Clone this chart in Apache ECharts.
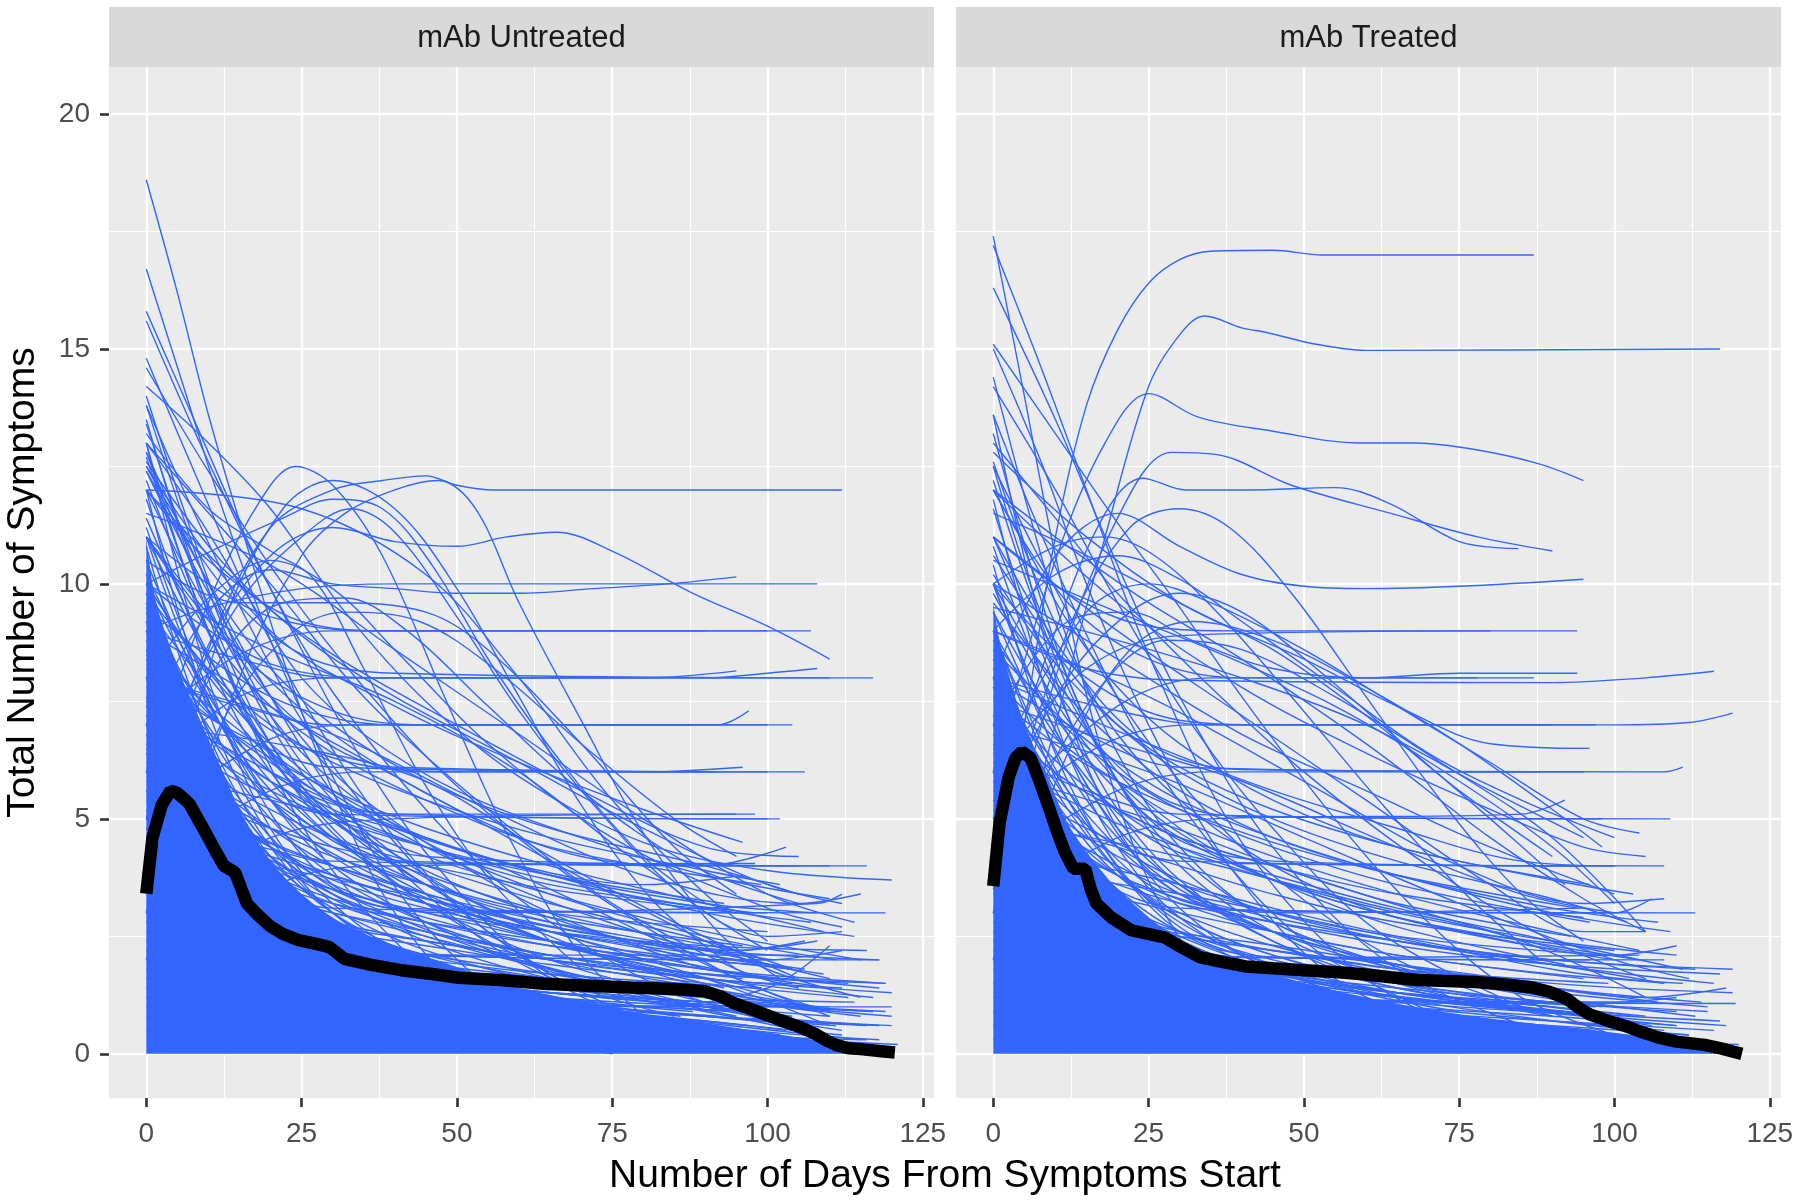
<!DOCTYPE html>
<html>
<head>
<meta charset="utf-8">
<script src="https://cdn.jsdelivr.net/npm/echarts@6/dist/echarts.min.js"></script>
<style>
  html, body { margin: 0; padding: 0; background: #fff; }
  #chart { width: 1800px; height: 1202px; }
</style>
</head>
<body>
<div id="chart"></div>
<script>
// tick values
var xTicks = [0, 25, 50, 75, 100, 125];
var xMinorTicks = [12.5, 37.5, 62.5, 87.5, 112.5];
var yTicks = [0, 5, 10, 15, 20];
var yMinorTicks = [2.5, 7.5, 12.5, 17.5];
var panelTitles = ['mAb Untreated', 'mAb Treated'];

// solid mass of overlapping trajectories (upper edge)
var untreatedBand = [[0,11.0],[1,10.0],[2,9.4],[4,8.6],[6,7.9],[8,7.3],[10,6.7],[13,5.8],[15,5.2],[18,4.5],[20,4.1],[25,3.4],[30,2.9],[35,2.55],[40,2.3],[50,1.85],[60,1.4],[70,1.1],[80,0.85],[90,0.65],[100,0.45],[110,0.25],[120,0.07]];
var treatedBand = [[0,9.6],[1,8.8],[2,8.3],[4,7.4],[6,6.7],[9,5.8],[12,4.9],[15,4.3],[18,3.8],[20,3.5],[26,2.8],[30,2.45],[35,2.15],[40,1.9],[50,1.5],[60,1.2],[70,0.95],[80,0.75],[90,0.6],[100,0.45],[110,0.28],[120,0.08]];

// mean curves
var untreatedMean = [[0,3.41],[1,4.6],[2.5,5.3],[3.9,5.6],[5,5.55],[6.9,5.33],[8.3,5.0],[9.7,4.67],[11,4.35],[12.5,4.0],[14.3,3.86],[16.2,3.2],[18,2.95],[19.9,2.72],[22,2.55],[24.5,2.42],[27,2.35],[29.5,2.27],[31.9,2.02],[36,1.9],[41,1.78],[46,1.7],[50.3,1.62],[57,1.57],[64,1.49],[71,1.45],[78,1.41],[85,1.38],[90,1.33],[92.5,1.22],[94.6,1.08],[98,0.92],[102,0.72],[105,0.58],[107.6,0.43],[109.5,0.28],[111,0.19],[113,0.12],[115,0.1],[118,0.06],[120.5,0.03]];
var treatedMean = [[0,3.57],[1,4.9],[2.5,5.9],[3.6,6.3],[4.6,6.43],[6,6.3],[7.4,5.82],[8.8,5.3],[10.2,4.76],[11.5,4.3],[12.9,3.94],[14.8,3.94],[15.7,3.5],[16.6,3.2],[19,2.9],[22.2,2.63],[25,2.55],[27.7,2.47],[30.5,2.25],[33.2,2.06],[37,1.95],[40.6,1.86],[45,1.82],[49.9,1.78],[55,1.74],[59.1,1.7],[64,1.63],[68.3,1.57],[73,1.55],[77.6,1.53],[82,1.48],[86.8,1.41],[89.5,1.32],[92.3,1.17],[94,1.0],[96,0.84],[99,0.7],[101.6,0.6],[104,0.48],[107,0.35],[110,0.26],[114.5,0.19],[117.3,0.11],[119,0.05],[120.5,0.0]];

// individual patient trajectories, mAb untreated
var untreatedLines = [
  [[0,18.6],[5,16.2],[10,13.6],[16,10.9],[22,8.4],[30,5.6],[40,3],[52,1.2],[65,0.3],[75,0]],
  [[0,16.7],[6,14.2],[12,11.7],[20,8.8],[30,5.9],[42,3.2],[58,1.1],[72,0.2]],
  [[0,15.8],[8,13.4],[16,11],[25,8.6],[35,6.2],[48,3.8],[65,1.6],[85,0.4]],
  [[0,15.6],[10,12.6],[20,9.9],[30,7.7],[45,5.2],[60,3.3],[80,1.6],[100,0.7]],
  [[0,14.8],[8,12.3],[18,9.3],[28,6.9],[40,4.6],[55,2.6],[75,1],[95,0.2]],
  [[0,14.6],[10,12.4],[22,10],[35,7.8],[50,5.7],[70,3.6],[95,1.6],[110,0.9]],
  [[0,14.2],[10,13],[20,11.6],[32,9.4],[45,7.5],[60,5.9],[80,4.5],[100,3.9],[120,3.7]],
  [[0,13.8],[6,12],[14,9.8],[25,7.1],[38,4.8],[52,2.9],[70,1.3]],
  [[0,13.5],[5,11.3],[12,8.6],[20,6.1],[30,3.9],[45,1.8],[60,0.6]],
  [[0,13.2],[10,11.6],[20,10.7],[27,10.1],[35,8.2],[45,5.7],[56,3.6],[70,1.8]],
  [[0,13],[8,11.5],[16,9.8],[25,8],[35,6.8],[50,5.6],[70,4.6],[90,3.8],[110,3.3]],
  [[0,12.8],[10,10],[20,7.6],[32,5.2],[45,3.4],[62,1.8],[85,0.8]],
  [[0,12.6],[12,10.5],[25,8.9],[40,7.6],[60,6.2],[80,4.8],[100,3.6],[112,3.2]],
  [[0,12.4],[8,10.3],[18,8],[30,6],[45,4.5],[65,3],[90,1.8]],
  [[0,4],[10,8.6],[20,11.2],[30,12],[38,12.2],[45,12.3],[50,12.1],[56,12],[112,12]],
  [[0,6],[10,9.6],[18,11.7],[24,12.5],[30,12.1],[38,10.6],[48,7.6],[58,4.7],[70,2.1],[82,0.6]],
  [[0,3],[12,9],[22,11.6],[30,12.2],[40,11.6],[50,9.9],[60,7.6],[70,5.3],[82,3.2],[95,1.8]],
  [[0,5],[10,8.7],[20,10.6],[30,11.2],[40,10.9],[50,10.8],[58,11],[66,11.1],[75,10.7],[88,9.8],[100,9.1],[110,8.4]],
  [[0,2],[15,8],[25,10.6],[32,11.5],[40,12],[47,12.2],[53,11.6],[60,9.6],[70,7.1],[80,4.7],[92,2.6],[102,1.6]],
  [[0,7],[10,9.4],[20,10.3],[30,10],[40,9.9],[50,9.8],[60,9.8],[72,9.9],[84,10],[95,10.15]],
  [[0,9],[10,9.5],[25,9.9],[40,10],[108,10]],
  [[0,6],[15,9.6],[25,11],[33,11.6],[40,11.1],[50,9.3],[60,7.3],[72,5.3],[86,3.4],[100,2.2]],
  [[0,8],[10,9.7],[20,10.5],[30,9.9],[40,8.6],[55,6.6],[75,4.6],[100,3.1],[112,2.7]],
  [[0,10],[12,10.8],[22,11.4],[30,11.8],[38,11.6],[46,10.4],[56,8.2],[68,6],[80,4.2],[90,3.2]],
  [[0,5],[12,8.4],[22,9.6],[32,9.7],[42,9],[55,7.4],[70,5.6],[88,4],[105,3.2]],
  [[0,3],[12,7],[22,8.8],[32,9.4],[44,9.2],[56,8.2],[70,6.6],[85,5],[95,4.2]],
  [[0,11],[10,10],[20,9.3],[35,9],[107,9]],
  [[0,7],[15,8.5],[30,9],[100,9]],
  [[0,12],[10,10.5],[25,9.2],[40,9],[90,9]],
  [[0,12.5],[12,10],[25,8.5],[40,8.1],[117,8]],
  [[0,9],[15,8.4],[30,8],[90,8],[100,8.1],[108,8.2]],
  [[0,6],[15,7.6],[30,8],[110,8]],
  [[0,10],[20,8.3],[40,8],[80,8],[95,8.15]],
  [[0,11],[15,8.5],[30,7.3],[45,7],[104,7]],
  [[0,8],[15,7.4],[30,7],[100,7]],
  [[0,5],[20,6.7],[35,7],[92,7],[97,7.3]],
  [[0,9.5],[20,7.6],[40,7],[88,7]],
  [[0,12],[12,9],[25,7],[40,6.1],[106,6]],
  [[0,8],[15,6.8],[30,6.1],[100,6]],
  [[0,4],[20,5.6],[35,6],[92,6]],
  [[0,10],[15,7.4],[30,6.3],[50,6],[80,6],[96,6.1]],
  [[0,11],[12,8],[25,5.8],[40,5.1],[102,5]],
  [[0,7],[15,5.8],[30,5.1],[100,5]],
  [[0,3],[20,4.6],[40,5],[95,5.1]],
  [[0,9],[20,6],[40,5.1],[98,5.1]],
  [[0,10],[12,7],[25,5],[40,4.1],[116,4]],
  [[0,6],[15,4.8],[30,4.1],[105,4]],
  [[0,13],[10,9],[25,5.5],[45,4.2],[110,4]],
  [[0,2],[25,3.8],[40,4],[98,4.05]],
  [[0,9],[12,6],[25,4],[40,3.1],[119,3]],
  [[0,5],[15,3.8],[30,3.1],[100,3]],
  [[0,11],[12,7],[30,3.6],[50,3],[108,3.2],[112,3.4]],
  [[0,8],[12,5],[25,3],[40,2.1],[118,2]],
  [[0,4],[15,2.8],[30,2.1],[105,2.1]],
  [[0,6],[15,3.6],[35,2.2],[100,2],[112,2.2]],
  [[0,7],[12,4],[25,2],[40,1.1],[120,1]],
  [[0,3],[15,1.8],[30,1.1],[110,1]],
  [[0,12],[15,10],[30,8.5],[50,7],[70,5.6],[90,4.4],[105,4.2]],
  [[0,10],[20,8.6],[40,7.5],[60,6],[80,4],[100,2.5],[112,2.6]],
  [[0,7],[25,6.5],[45,5.8],[65,4.2],[85,2.8],[105,1.6]],
  [[0,12.5],[20,9],[40,7.4],[60,6.2],[80,5.2],[96,4.5]],
  [[0,9],[25,7],[50,5.2],[75,3.4],[100,1.8],[115,1.2]],
  [[0,11.5],[20,10.4],[40,8.6],[60,6.8],[80,5],[100,3.4],[114,2.8]],
  [[0,6],[20,5.4],[45,4.6],[70,3.2],[95,1.6],[110,0.8]],
  [[0,12],[25,11.6],[45,10.2],[60,8],[75,5.4],[90,3.4],[100,2.4]],
  [[0,5],[30,4],[60,2.8],[90,1.6],[110,0.6]],
  [[0,8],[30,6.8],[55,5.2],[80,3.8],[105,3.2],[115,3.4]],
  [[0,4],[30,3],[60,2],[90,1],[112,0.5]],
  [[0,3],[40,2.2],[80,1.4],[108,0.9]],
  [[0,2],[40,1.4],[80,0.8],[115,0.3]],
  [[0,10.5],[15,9.6],[30,9.6],[45,9.4],[55,8.6],[70,6.6],[85,4.4],[95,3.4]],
  [[0,13],[20,10],[35,7.6],[55,5.2],[75,3.2],[95,1.8],[105,1.4]],
  [[0,3],[40,1.5],[80,1],[100,1.4],[110,2.3]],
  [[0,8.5],[20,6.4],[45,4.4],[70,3],[95,2.2],[108,2.4]],
  [[0,6.5],[20,5],[40,3.6],[65,2.4],[90,1.6],[104,1.5]],
  [[0,9.5],[15,7],[30,5],[50,3.4],[75,2],[100,1.1],[115,0.8]],
  [[0,4.5],[20,4],[45,3.3],[70,2.6],[95,2.2],[106,2.4]],
  [[0,11],[15,8.6],[30,6.8],[50,5.2],[70,4.2],[90,4],[103,4.4]],
  [[0,7.5],[20,6],[40,4.8],[60,4],[80,3.6],[96,3.8]],
  [[0,5.5],[25,3.8],[50,2.4],[75,1.4],[100,0.8],[118,0.6]]
];

// more trajectories read at fixed days; first entry of a row = day of its last value
var rowDays = [0, 6, 12, 20, 30, 45, 65, 90];
var untreatedRows = [
  [118, 9.8,7.6,5.8,4.2,3.0,2.0,1.2,0.6,0.3],
  [112, 9.2,7.0,5.4,3.8,2.7,1.8,1.1,0.7,0.4],
  [105, 8.6,6.8,5.4,4.1,3.1,2.2,1.5,0.9,0.5],
  [120, 8.0,6.6,5.4,4.2,3.3,2.5,1.8,1.2,0.8],
  [86, 7.6,6.0,4.8,3.6,2.6,1.8,1.2,0.8],
  [117, 7.2,6.2,5.2,4.2,3.4,2.7,2.1,1.6,1.2],
  [109, 6.8,5.6,4.6,3.6,2.8,2.1,1.6,1.2,1.0],
  [101, 6.4,5.0,3.9,2.9,2.1,1.4,0.9,0.5,0.3],
  [119, 6.0,5.2,4.5,3.8,3.2,2.6,2.1,1.7,1.5],
  [94, 5.6,4.6,3.8,3.0,2.3,1.7,1.2,0.9],
  [114, 5.2,4.4,3.7,3.0,2.4,1.9,1.5,1.2,1.1],
  [107, 4.8,4.0,3.3,2.6,2.0,1.5,1.1,0.8,0.6],
  [96, 4.4,3.8,3.2,2.6,2.1,1.7,1.3,1.0],
  [111, 4.0,3.4,2.9,2.4,1.9,1.5,1.1,0.8,0.6],
  [88, 3.6,3.2,2.8,2.4,2.0,1.6,1.2,0.9],
  [116, 3.2,2.8,2.5,2.1,1.8,1.4,1.1,0.8,0.6],
  [92, 2.8,2.6,2.3,2.0,1.7,1.4,1.1,0.8],
  [103, 2.4,2.2,2.0,1.8,1.5,1.2,0.9,0.7,0.5],
  [84, 2.0,1.9,1.7,1.5,1.3,1.0,0.8,0.5],
  [121, 1.6,1.5,1.4,1.2,1.0,0.8,0.6,0.4,0.2],
  [80, 1.2,1.1,1.0,0.9,0.7,0.6,0.4,0.3],
  [113, 0.8,0.8,0.7,0.6,0.5,0.4,0.3,0.2,0.1],
  [110, 10.5,8.6,7.0,5.4,4.2,3.2,2.4,1.8,1.4],
  [97, 11.2,9.0,7.2,5.4,4.0,2.8,1.8,1.1],
  [106, 11.8,9.6,7.8,6.0,4.6,3.4,2.4,1.6,1.0],
  [99, 12.2,10.2,8.4,6.6,5.0,3.6,2.4,1.4],
  [93, 12.7,10.4,8.4,6.4,4.7,3.2,2.0,1.0],
  [95, 13.4,11.0,8.8,6.6,4.8,3.2,1.8,0.8],
  [100, 14.0,11.6,9.4,7.2,5.4,3.8,2.6,1.6],
  [108, 10.0,8.8,7.7,6.6,5.6,4.6,3.8,3.2,3.0],
  [98, 9.0,8.0,7.0,6.0,5.2,4.4,3.6,3.0],
  [115, 8.4,7.4,6.6,5.8,5.0,4.2,3.4,2.6,2.0],
  [95, 7.8,7.0,6.2,5.4,4.6,3.8,3.0,2.2],
  [104, 7.0,6.4,5.8,5.2,4.6,4.0,3.2,2.4,1.8],
  [100, 6.6,6.0,5.4,4.8,4.2,3.6,3.0,2.6],
  [110, 5.8,5.4,5.0,4.5,4.0,3.4,2.8,2.2,1.6],
  [91, 5.0,4.8,4.5,4.2,3.8,3.2,2.6,2.0],
  [118, 4.6,4.4,4.2,3.9,3.5,3.0,2.4,1.8,1.4],
  [96, 3.8,3.7,3.5,3.3,3.0,2.6,2.1,1.6],
  [113, 3.0,3.0,2.9,2.8,2.6,2.3,1.9,1.5,1.2],
  [107, 2.2,2.3,2.3,2.2,2.1,1.9,1.6,1.3,1.0],
  [119, 1.4,1.6,1.7,1.7,1.6,1.5,1.3,1.1,0.9],
  [102, 1.0,1.2,1.3,1.3,1.2,1.0,0.8,0.6,0.4],
  [116, 0.5,0.7,0.8,0.8,0.8,0.7,0.6,0.4,0.3],
  [108, 9.6,8.0,6.4,5.0,3.8,2.8,2.0,1.4,1.0],
  [89, 8.8,7.2,5.8,4.4,3.4,2.4,1.6,1.0],
  [97, 10.8,8.2,6.2,4.4,3.0,1.9,1.1,0.6],
  [94, 12.0,9.0,6.6,4.6,3.0,1.8,1.0,0.5],
  [75, 13.0,9.8,7.2,4.8,3.2,1.9,1.0],
  [112, 9.4,7.4,5.8,4.4,3.4,2.6,2.0,1.6,1.4],
  [106, 6.2,5.6,5.0,4.4,3.8,3.2,2.6,2.1,1.8],
  [98, 5.4,4.8,4.3,3.8,3.3,2.8,2.3,1.9],
  [117, 4.2,3.6,3.1,2.6,2.2,1.8,1.4,1.1,0.9],
  [104, 3.4,3.0,2.6,2.2,1.9,1.6,1.3,1.0,0.8],
  [110, 2.6,2.4,2.2,1.9,1.7,1.5,1.2,1.0,0.8],
  [120, 1.8,1.7,1.6,1.5,1.4,1.2,1.0,0.8,0.6],
  [93, 7.4,6.8,6.2,5.6,5.0,4.4,3.8,3.2],
  [109, 8.2,7.6,7.0,6.3,5.6,4.8,4.0,3.2,2.6],
  [99, 11.0,9.8,8.6,7.4,6.4,5.4,4.4,3.6],
  [105, 12.4,11.0,9.6,8.2,7.0,5.8,4.8,4.0,3.4],
  [114, 8.6,7.8,7.0,6.2,5.4,4.6,3.8,3.0,2.5],
  [101, 7.4,6.4,5.6,4.8,4.0,3.3,2.7,2.2,2.0],
  [118, 6.6,5.8,5.1,4.4,3.7,3.1,2.6,2.2,2.0],
  [96, 9.2,7.8,6.6,5.4,4.4,3.6,2.9,2.3],
  [109, 10.2,8.6,7.2,5.8,4.6,3.6,2.8,2.1,1.7],
  [88, 11.4,9.6,8.0,6.4,5.1,3.9,2.9,2.0],
  [116, 5.6,5.0,4.5,4.0,3.5,3.0,2.6,2.3,2.2],
  [104, 4.8,4.4,4.0,3.6,3.2,2.8,2.4,2.0,1.8],
  [120, 3.6,3.4,3.2,3.0,2.7,2.4,2.0,1.6,1.3],
  [99, 2.8,2.8,2.7,2.5,2.3,2.0,1.7,1.4],
  [111, 12.8,10.8,9.0,7.2,5.8,4.5,3.4,2.5,2.0],
  [93, 13.8,11.4,9.2,7.0,5.2,3.6,2.4,1.4],
  [107, 8.0,7.2,6.5,5.8,5.1,4.4,3.7,3.1,2.8],
  [119, 7.0,6.0,5.2,4.4,3.6,2.9,2.3,1.8,1.5],
  [102, 9.8,8.8,7.9,7.0,6.2,5.4,4.6,3.9,3.6],
  [95, 6.0,5.6,5.2,4.8,4.4,4.0,3.5,3.0],
  [113, 4.4,4.0,3.6,3.2,2.8,2.4,2.0,1.7,1.5],
  [108, 3.0,2.7,2.4,2.1,1.9,1.6,1.3,1.1,1.0],
  [117, 2.2,2.1,2.0,1.9,1.7,1.5,1.3,1.1,0.9],
  [98, 1.6,1.7,1.7,1.6,1.5,1.3,1.1,0.9]
];

// individual patient trajectories, mAb treated
var treatedLines = [
  [[0,17.4],[5,14],[10,10.6],[18,6.2],[28,2.9],[40,1],[55,0.2]],
  [[0,17.2],[8,14.5],[15,12],[25,8.5],[40,4.5],[60,1.6],[80,0.3]],
  [[0,16.3],[10,13.5],[20,10.4],[30,7.6],[45,4.4],[65,1.8],[90,0.4]],
  [[0,15.1],[10,13.2],[20,11.3],[30,9.5],[40,7.6],[55,5],[70,2.8],[85,1.2],[100,0.4]],
  [[0,15],[8,12.5],[15,10],[25,7],[38,4],[55,1.6],[75,0.4]],
  [[0,14.2],[10,12],[20,9.6],[32,7],[45,4.8],[62,2.6],[85,1]],
  [[0,13.6],[6,11.6],[14,9.2],[24,6.6],[36,4.3],[52,2.2],[72,0.8]],
  [[0,13],[10,11.4],[20,9.8],[35,7.8],[50,6],[70,4],[90,2.4],[105,1.6]],
  [[0,12.5],[8,10.4],[18,8],[30,5.8],[45,3.8],[65,2],[90,0.8]],
  [[0,12],[12,10.8],[25,9.6],[40,8.4],[60,6.6],[80,4.6],[95,3.3],[105,2.6]],
  [[0,3],[5,7],[10,11],[15,13.8],[20,15.4],[25,16.4],[30,16.9],[35,17.08],[45,17.1],[53,17],[87,17]],
  [[0,2],[10,7],[18,11],[25,14.2],[30,15.3],[34,15.7],[40,15.45],[44,15.35],[52,15.1],[60,14.97],[117,15]],
  [[0,6],[10,10.5],[18,13],[25,14.05],[33,13.55],[45,13.25],[59,13],[68,13],[78,12.85],[88,12.55],[95,12.2]],
  [[0,3],[10,8],[20,11.4],[28.7,12.8],[36,12.75],[48,12.1],[64,11.5],[78,11],[90,10.7]],
  [[0,5],[10,9],[18,11.5],[24,12.25],[31,12],[41,12],[55,12.05],[64,11.7],[75,10.9],[84.5,10.75]],
  [[0,8],[10,10.6],[20,11.5],[30,10.8],[40,10.2],[50,9.95],[60,9.9],[75,9.95],[95,10.1]],
  [[0,4],[12,9],[22,11.2],[30,11.6],[38,11.2],[48,9.8],[60,7.6],[72,5.4],[85,3.4],[95,2.4]],
  [[0,6],[15,9.4],[25,10],[35,9.6],[50,8.6],[65,7.4],[80,6.2],[95,5],[104,4.7]],
  [[0,9],[10,10.2],[20,10.6],[30,10.1],[40,9.2],[55,7.8],[70,6.4],[85,5.4],[100,4.6]],
  [[0,5],[12,8],[22,9.4],[30,9.8],[40,9.4],[52,8.2],[66,6.6],[80,5],[92,3.6]],
  [[0,10],[10,10.8],[18,11],[26,10.6],[36,9.4],[48,7.6],[62,5.4],[76,3.4],[88,2]],
  [[0,2],[12,6.4],[22,8.6],[32,9.2],[45,8.8],[60,7.8],[75,6.6],[90,5.2],[98,4.4]],
  [[0,7],[12,9.2],[22,9.4],[32,8.8],[45,8.2],[60,8],[75,8.1],[94,8.1]],
  [[0,11.5],[12,10.8],[24,10],[36,9.2],[50,8.4],[65,7.4],[80,6.6],[96,6.5]],
  [[0,3.5],[15,7.4],[28,8.8],[40,8.6],[55,7.6],[72,6.2],[90,4.6],[105,2.6]],
  [[0,11],[12,9.8],[25,9.1],[40,9],[94,9]],
  [[0,6],[15,8.2],[30,8.9],[80,9]],
  [[0,12],[12,9.6],[25,8.4],[40,8],[87,8]],
  [[0,9],[15,8.2],[30,7.95],[90,7.9],[105,8],[116,8.14]],
  [[0,5],[20,7.4],[35,8],[78,8]],
  [[0,10],[15,8],[30,7.1],[45,7],[97,7]],
  [[0,8],[20,7.3],[35,7],[100,7],[112,7.05],[119,7.25]],
  [[0,5],[18,6.6],[32,7],[90,7]],
  [[0,11],[12,8.4],[25,6.6],[40,6.05],[108,6],[111,6.1]],
  [[0,8],[15,6.8],[30,6.1],[95,6]],
  [[0,4],[20,5.6],[35,6],[88,6]],
  [[0,10],[12,7.4],[25,5.6],[40,5.05],[109,5]],
  [[0,6.5],[15,5.6],[30,5.1],[98,5]],
  [[0,3],[20,4.6],[35,5],[85,5.1],[92,5.4]],
  [[0,9],[12,6.4],[25,4.6],[40,4.05],[108,4]],
  [[0,6],[15,4.8],[30,4.1],[100,4]],
  [[0,12.5],[10,8.6],[25,5],[45,4.1],[95,4]],
  [[0,8],[12,5.4],[25,3.6],[40,3.05],[113,3]],
  [[0,5],[15,3.8],[30,3.1],[100,3],[106,3.3]],
  [[0,10],[12,6.4],[30,3.4],[50,3],[95,3.1]],
  [[0,7],[12,4.4],[25,2.7],[40,2.05],[108,2]],
  [[0,4],[15,2.8],[30,2.1],[96,2]],
  [[0,9],[12,5.6],[30,2.6],[50,2.05],[104,2.1]],
  [[0,6],[12,3.4],[25,1.8],[40,1.1],[119.5,1.07]],
  [[0,3],[15,1.8],[30,1.15],[100,1.1],[110,1.2]],
  [[0,8],[10,5],[25,2.2],[45,1.2],[105,1.1]],
  [[0,11],[20,9],[40,7.2],[60,5.4],[80,3.6],[95,2.6],[105,2.6]],
  [[0,9],[25,7.6],[50,5.8],[75,4],[95,3.2],[108,3.3]],
  [[0,7],[25,6],[50,4.6],[75,3.2],[100,2],[112,1.6]],
  [[0,12],[20,9.6],[40,7.8],[60,6.4],[80,5.2],[95,4.4],[105,4.2]],
  [[0,10],[20,8.4],[40,6.8],[60,5.6],[80,4.4],[100,3.4]],
  [[0,5],[30,4.2],[60,3.2],[85,2.4],[105,1.2]],
  [[0,8],[25,6.6],[45,5.6],[65,4.8],[85,4.1],[100,4]],
  [[0,6],[25,5],[50,3.8],[75,2.8],[100,2.1],[110,2.3]],
  [[0,4],[30,3.4],[60,2.6],[90,1.8],[108,1.5]],
  [[0,3],[40,2.4],[80,1.6],[105,1.2],[118,1.4]],
  [[0,2],[40,1.6],[80,1],[110,0.6]],
  [[0,12.8],[15,11],[30,9.6],[45,8.6],[60,7.2],[75,5.6],[90,4.2]],
  [[0,9.5],[20,8.8],[40,8],[60,7],[80,5.6],[95,4.6]],
  [[0,10.5],[20,9.4],[35,8.6],[55,7.4],[75,5.8],[90,4.4],[100,3.2]],
  [[0,7.5],[20,6.6],[40,5.8],[65,4.4],[85,3.4],[100,3]]
];

var treatedRows = [
  [112, 9.0,7.0,5.4,3.9,2.8,1.9,1.2,0.7,0.4],
  [118, 8.4,6.6,5.2,3.9,2.9,2.1,1.4,0.9,0.6],
  [95, 7.8,6.2,5.0,3.8,2.9,2.1,1.5,1.0],
  [106, 7.2,5.8,4.6,3.5,2.6,1.9,1.3,0.9,0.6],
  [115, 6.6,5.6,4.7,3.8,3.0,2.3,1.7,1.3,1.0],
  [88, 6.0,5.0,4.1,3.2,2.5,1.8,1.3,0.9],
  [110, 5.4,4.6,3.9,3.2,2.6,2.0,1.5,1.1,0.9],
  [97, 4.8,4.1,3.5,2.8,2.2,1.7,1.2,0.8],
  [103, 4.2,3.7,3.2,2.7,2.2,1.7,1.3,1.0,0.8],
  [92, 3.6,3.2,2.8,2.4,2.0,1.6,1.2,0.9],
  [117, 3.0,2.8,2.5,2.2,1.9,1.5,1.2,0.9,0.7],
  [99, 2.4,2.3,2.1,1.9,1.7,1.4,1.1,0.8],
  [108, 1.8,1.8,1.7,1.6,1.4,1.2,1.0,0.7,0.5],
  [85, 1.2,1.3,1.3,1.2,1.1,0.9,0.7,0.5],
  [120, 0.6,0.8,0.9,0.9,0.8,0.7,0.5,0.3,0.2],
  [94, 0.3,0.5,0.6,0.6,0.6,0.5,0.4,0.3],
  [113, 10.0,8.0,6.4,4.8,3.6,2.6,1.8,1.2,0.8],
  [96, 10.8,8.6,6.8,5.0,3.6,2.4,1.5,0.9],
  [101, 11.6,9.2,7.2,5.2,3.7,2.4,1.4,0.8],
  [98, 12.2,9.8,7.8,5.8,4.2,2.8,1.8,1.0],
  [90, 13.2,10.4,8.0,5.8,4.0,2.6,1.5,0.8],
  [72, 14.4,11.4,8.8,6.4,4.4,2.8,1.6],
  [109, 9.6,8.6,7.6,6.6,5.6,4.6,3.8,3.0,2.6],
  [96, 8.8,7.8,6.9,6.0,5.2,4.4,3.6,2.8],
  [104, 8.0,7.2,6.5,5.8,5.0,4.2,3.4,2.6,2.2],
  [93, 7.0,6.4,5.8,5.2,4.6,4.0,3.2,2.5],
  [111, 6.2,5.8,5.4,4.9,4.4,3.8,3.1,2.4,1.8],
  [100, 5.2,5.0,4.7,4.4,4.0,3.4,2.8,2.2],
  [116, 4.4,4.3,4.1,3.9,3.6,3.1,2.5,1.9,1.5],
  [95, 3.4,3.5,3.4,3.3,3.0,2.6,2.1,1.6],
  [107, 2.6,2.8,2.8,2.7,2.5,2.2,1.8,1.4,1.1],
  [114, 9.4,7.6,6.0,4.6,3.5,2.6,1.9,1.4,1.1],
  [92, 8.2,6.8,5.6,4.4,3.4,2.6,1.9,1.3],
  [89, 10.4,7.8,5.8,4.0,2.7,1.7,1.0,0.5],
  [97, 11.8,8.8,6.4,4.4,2.9,1.8,1.0,0.5],
  [75, 13.6,10.0,7.2,4.8,3.1,1.8,0.9],
  [119, 5.8,5.2,4.6,4.0,3.4,2.9,2.4,2.0,1.8],
  [99, 4.6,4.0,3.5,3.0,2.6,2.2,1.8,1.5],
  [105, 3.8,3.3,2.9,2.5,2.1,1.7,1.3,1.0,0.8],
  [110, 2.0,1.9,1.8,1.6,1.4,1.2,1.0,0.8,0.6],
  [94, 7.6,7.0,6.4,5.8,5.2,4.5,3.8,3.1],
  [102, 10.6,9.4,8.2,7.0,6.0,5.0,4.1,3.3,2.8],
  [96, 12.0,10.6,9.2,7.8,6.6,5.4,4.4,3.6],
  [108, 6.8,6.0,5.2,4.4,3.7,3.0,2.4,1.9,1.5],
  [91, 9.8,8.4,7.1,5.8,4.7,3.7,2.9,2.2],
  [116, 1.5,1.6,1.6,1.5,1.3,1.1,0.9,0.7,0.5],
  [112, 0.9,1.1,1.2,1.2,1.1,1.0,0.8,0.6,0.4],
  [110, 7.8,6.8,6.0,5.2,4.4,3.7,3.0,2.4,2.1],
  [98, 6.4,5.6,4.9,4.2,3.6,3.0,2.5,2.1],
  [117, 5.6,5.0,4.4,3.8,3.3,2.8,2.3,1.9,1.7],
  [104, 9.4,8.0,6.8,5.6,4.6,3.7,2.9,2.3,2.0],
  [92, 11.0,9.2,7.6,6.0,4.8,3.7,2.7,1.9],
  [113, 4.8,4.4,4.0,3.6,3.2,2.8,2.4,2.0,1.8],
  [119, 3.4,3.2,3.0,2.8,2.5,2.2,1.9,1.5,1.3],
  [100, 12.6,10.4,8.6,6.8,5.4,4.0,2.9,2.0],
  [107, 8.6,7.8,7.0,6.2,5.4,4.6,3.8,3.1,2.8],
  [95, 7.0,6.4,5.8,5.2,4.6,4.0,3.4,2.9],
  [115, 2.8,2.6,2.4,2.2,2.0,1.7,1.4,1.1,0.9],
  [103, 10.2,9.0,8.0,7.0,6.1,5.2,4.4,3.7,3.4],
  [111, 6.0,5.2,4.5,3.8,3.2,2.6,2.1,1.7,1.5],
  [97, 2.2,2.2,2.1,2.0,1.8,1.6,1.3,1.0]
];

var FONT = '"Liberation Sans", Arial, Helvetica, sans-serif';
var BLUE = '#3366FF';
var panels = [
  { left: 109, width: 825 },
  { left: 956, width: 825 }
];
var plotTop = 67, plotHeight = 1031, stripTop = 7, stripHeight = 60;
var xMin = -6, xMax = 126.8, yMin = -0.94, yMax = 21.0;

var grids = panels.map(function (p) {
  return {
    left: p.left, width: p.width, top: plotTop, height: plotHeight,
    show: true, backgroundColor: '#EBEBEB', borderWidth: 0
  };
});

function majorX(gi) {
  return {
    type: 'value', gridIndex: gi, min: xMin, max: xMax, position: 'bottom',
    axisLine: { show: false, onZero: false },
    axisTick: { show: true, customValues: xTicks, length: 9, lineStyle: { color: '#333333', width: 2.6 } },
    axisLabel: { customValues: xTicks, color: '#4D4D4D', fontSize: 28, fontFamily: FONT, margin: 22 },
    splitLine: { show: true, lineStyle: { color: '#FFFFFF', width: 2.3 } }
  };
}
function minorX(gi) {
  return {
    type: 'value', gridIndex: gi, min: xMin, max: xMax, position: 'top',
    axisLine: { show: false, onZero: false },
    axisTick: { show: false, customValues: xMinorTicks },
    axisLabel: { show: false, customValues: xMinorTicks },
    splitLine: { show: true, lineStyle: { color: '#FFFFFF', width: 1.1 } }
  };
}
function majorY(gi) {
  return {
    type: 'value', gridIndex: gi, min: yMin, max: yMax, position: 'left',
    axisLine: { show: false, onZero: false },
    axisTick: { show: gi === 0, customValues: yTicks, length: 9, lineStyle: { color: '#333333', width: 2.6 } },
    axisLabel: { show: gi === 0, customValues: yTicks, color: '#4D4D4D', fontSize: 28, fontFamily: FONT, margin: 19 },
    splitLine: { show: true, lineStyle: { color: '#FFFFFF', width: 2.3 } }
  };
}
function minorY(gi) {
  return {
    type: 'value', gridIndex: gi, min: yMin, max: yMax, position: 'right',
    axisLine: { show: false, onZero: false },
    axisTick: { show: false, customValues: yMinorTicks },
    axisLabel: { show: false, customValues: yMinorTicks },
    splitLine: { show: true, lineStyle: { color: '#FFFFFF', width: 1.1 } }
  };
}

var series = [];
function pushLine(gi, pts) {
  series.push({
    type: 'line', xAxisIndex: gi, yAxisIndex: gi, data: pts,
    smooth: 0.35, symbol: 'none', silent: true, z: 3,
    lineStyle: { color: BLUE, width: 1.4 }
  });
}
function rowPoints(row) {
  var vals = row.slice(1);
  return vals.map(function (v, i) {
    return [i === vals.length - 1 ? row[0] : rowDays[i], v];
  });
}
function addPanel(gi, band, lines, rows, mean) {
  series.push({
    type: 'line', xAxisIndex: gi, yAxisIndex: gi, data: band, smooth: 0.3,
    symbol: 'none', silent: true, z: 2,
    lineStyle: { width: 0 }, areaStyle: { color: BLUE, opacity: 1 }
  });
  lines.forEach(function (pts) { pushLine(gi, pts); });
  rows.forEach(function (row) { pushLine(gi, rowPoints(row)); });
  series.push({
    type: 'line', xAxisIndex: gi, yAxisIndex: gi, data: mean,
    symbol: 'none', silent: true, z: 4,
    lineStyle: { color: '#000000', width: 12.5 }
  });
}
addPanel(0, untreatedBand, untreatedLines, untreatedRows, untreatedMean);
addPanel(1, treatedBand, treatedLines, treatedRows, treatedMean);

var graphics = [];
panels.forEach(function (p, i) {
  graphics.push({
    type: 'rect', left: p.left, top: stripTop, silent: true,
    shape: { width: p.width, height: stripHeight },
    style: { fill: '#D9D9D9' }
  });
  graphics.push({
    type: 'text', x: p.left + p.width / 2, y: stripTop + stripHeight / 2 + 1, silent: true,
    style: { text: panelTitles[i], fill: '#1A1A1A', font: '31px ' + FONT, align: 'center', verticalAlign: 'middle' }
  });
});
graphics.push({
  type: 'text', x: (panels[0].left + panels[1].left + panels[1].width) / 2, y: 1176, silent: true,
  style: { text: 'Number of Days From Symptoms Start', fill: '#000000', font: '39px ' + FONT, align: 'center', verticalAlign: 'middle' }
});
graphics.push({
  type: 'text', x: 23, y: plotTop + plotHeight / 2, rotation: Math.PI / 2, silent: true,
  style: { text: 'Total Number of Symptoms', fill: '#000000', font: '39px ' + FONT, align: 'center', verticalAlign: 'middle' }
});

var chart = echarts.init(document.getElementById('chart'), null, { renderer: 'canvas' });
chart.setOption({
  animation: false,
  backgroundColor: '#FFFFFF',
  grid: grids,
  xAxis: [majorX(0), majorX(1), minorX(0), minorX(1)],
  yAxis: [majorY(0), majorY(1), minorY(0), minorY(1)],
  series: series,
  graphic: graphics
});
</script>
</body>
</html>
